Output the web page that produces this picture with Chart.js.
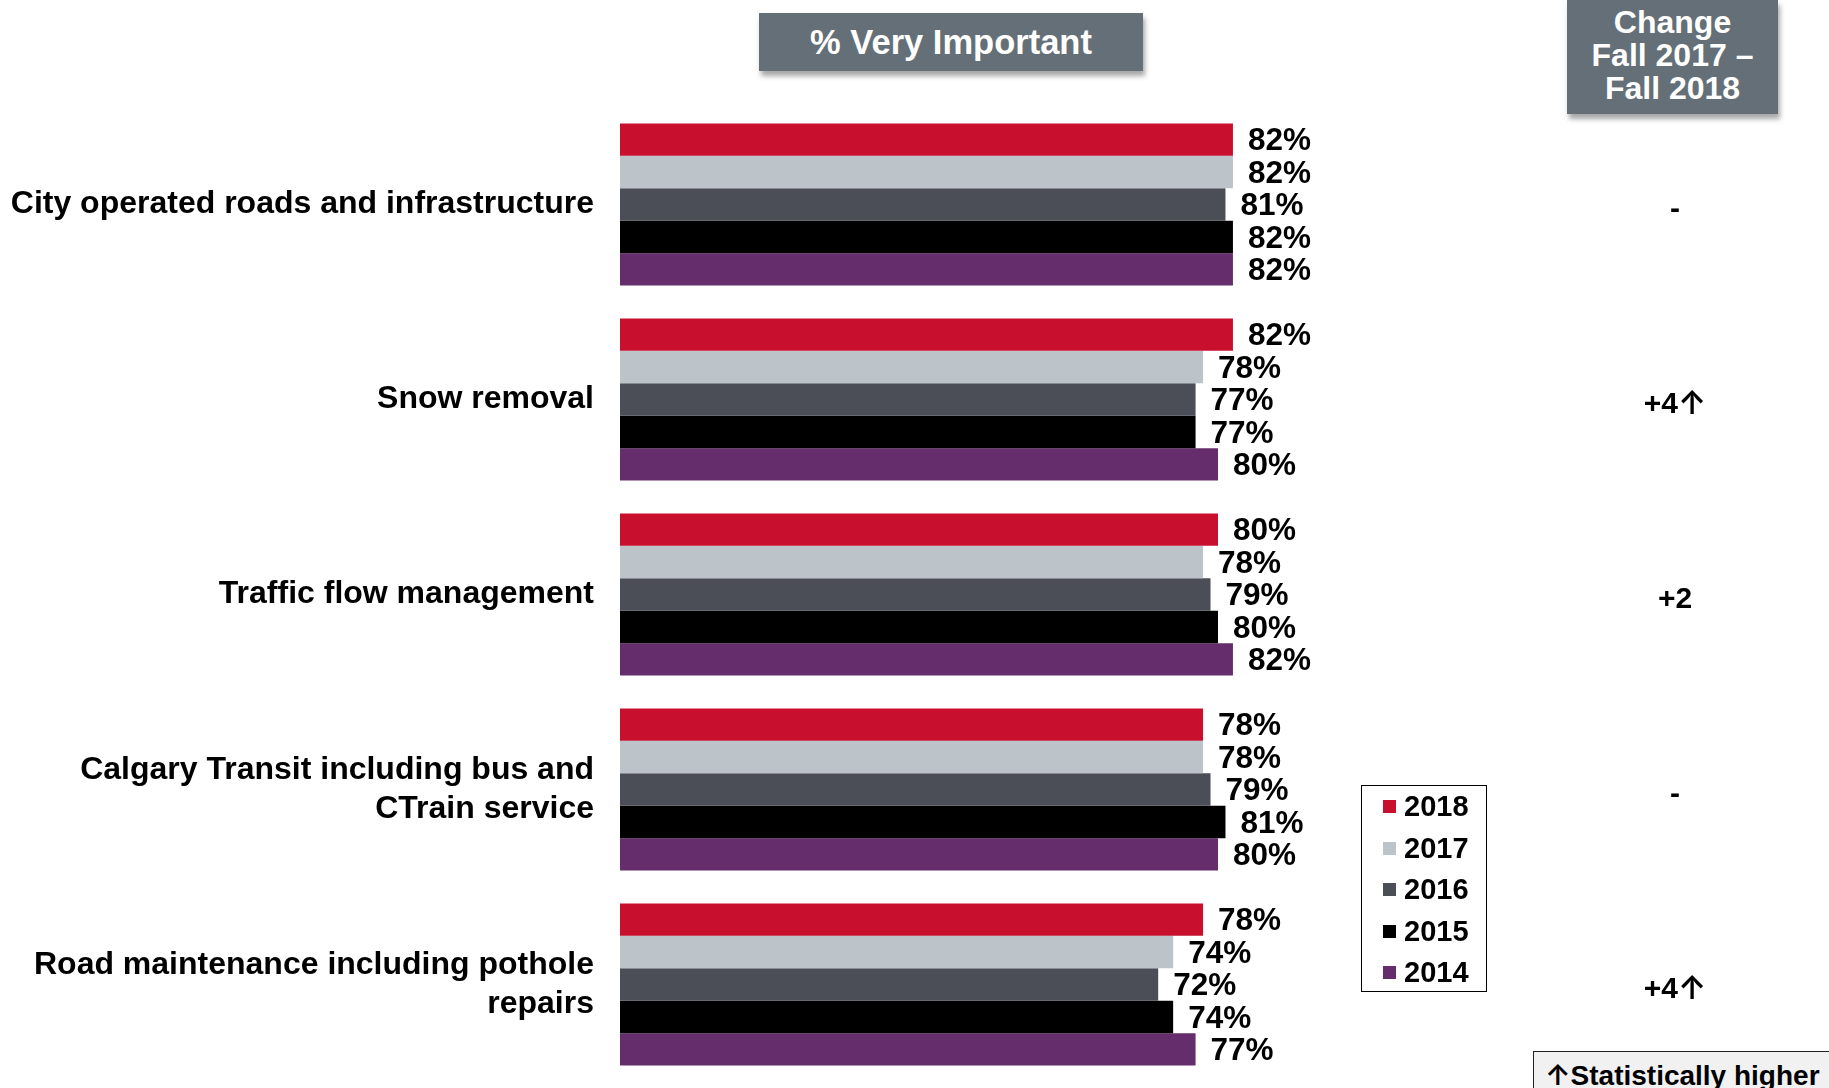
<!DOCTYPE html>
<html>
<head>
<meta charset="utf-8">
<script src="https://cdn.jsdelivr.net/npm/chart.js@4.4.1/dist/chart.umd.min.js"></script>
<style>
  html, body { margin:0; padding:0; background:#fff; }
  body { width:1829px; height:1088px; position:relative; overflow:hidden;
         font-family:'Liberation Sans', Arial, sans-serif; font-weight:bold; color:#000; }
  #chart { position:absolute; left:0; top:0; }
  .hdr { position:absolute; background:#646f78; color:#fff; text-align:center;
         box-shadow:2px 5px 5px rgba(0,0,0,0.35); }
  #title { left:759px; top:13px; width:384px; height:58px; line-height:58px; font-size:34.5px; }
  #changeHdr { left:1567px; top:0; width:211px; height:114px; box-sizing:border-box;
               padding-top:6px; font-size:32px; line-height:33px; }
  #legend { position:absolute; left:1361px; top:785px; width:124px; height:205px;
            border:1.5px solid #000; }
  #legend .item { position:absolute; left:0; height:30px; line-height:30px; font-size:29px; }
  #legend .sw { position:absolute; left:21px; top:9px; width:13px; height:13px; }
  #legend .lbl { position:absolute; left:42px; top:0; }
  #sig { position:absolute; left:1533px; top:1051px; width:320px; height:60px;
         border:1.5px solid #222; background:#f1f1f1; font-size:28px; }
  #sig span { position:absolute; left:11px; top:5px; }
  #sig .arr { position:static; font-family:Inter, 'DejaVu Sans', sans-serif; font-weight:600; font-size:29px; }
</style>
</head>
<body>
<div class="hdr" id="title">% Very Important</div>
<div class="hdr" id="changeHdr">Change<br>Fall 2017 –<br>Fall 2018</div>
<canvas id="chart" width="1829" height="1088"></canvas>
<div id="legend"></div>
<div id="sig"><span><span class="arr">↑</span>Statistically higher</span></div>

<script>
// categories (multi-line where the label wraps)
const categories = [
  'City operated roads and infrastructure',
  'Snow removal',
  'Traffic flow management',
  ['Calgary Transit including bus and', 'CTrain service'],
  ['Road maintenance including pothole', 'repairs']
];

const years = ['2018', '2017', '2016', '2015', '2014'];
const colors = ['#c8102e', '#bcc3c9', '#4b4e56', '#000000', '#652d6b'];

const v2018 = [82, 82, 80, 78, 78];
const v2017 = [82, 78, 78, 78, 74];
const v2016 = [81, 77, 79, 79, 72];
const v2015 = [82, 77, 80, 81, 74];
const v2014 = [82, 80, 82, 80, 77];

// change fall 2017 -> fall 2018, with significance flag
const changes = ['-', '+4', '+2', '-', '+4'];
const sigHigher = [false, true, false, false, true];

const series = [v2018, v2017, v2016, v2015, v2014];

const FONT = "'Liberation Sans', Arial, sans-serif";
const ARROW_FONT = "600 32px Inter, 'DejaVu Sans', sans-serif";

// value labels to the right of each bar
const valueLabels = {
  id: 'valueLabels',
  afterDatasetsDraw(chart) {
    const ctx = chart.ctx;
    ctx.save();
    ctx.font = 'bold 31.5px ' + FONT;
    ctx.fillStyle = '#000';
    ctx.textAlign = 'left';
    ctx.textBaseline = 'middle';
    chart.data.datasets.forEach((ds, i) => {
      chart.getDatasetMeta(i).data.forEach((bar, j) => {
        ctx.fillText(ds.data[j] + '%', bar.x + 15, bar.y + 2);
      });
    });
    ctx.restore();
  }
};

// change column on the right, aligned to each category
const changeColumn = {
  id: 'changeColumn',
  afterDraw(chart) {
    const ctx = chart.ctx;
    const y = chart.scales.y;
    const cx = 1675;
    ctx.save();
    ctx.fillStyle = '#000';
    ctx.textBaseline = 'middle';
    ctx.textAlign = 'left';
    changes.forEach((c, i) => {
      const py = y.getPixelForValue(i) + 5;
      ctx.font = 'bold 30px ' + FONT;
      const w1 = ctx.measureText(c).width;
      let w2 = 0;
      if (sigHigher[i]) {
        ctx.font = ARROW_FONT;
        w2 = ctx.measureText('↑').width;
      }
      const x0 = cx - (w1 + w2) / 2;
      ctx.font = 'bold 30px ' + FONT;
      ctx.fillText(c, x0, py);
      if (sigHigher[i]) {
        ctx.font = ARROW_FONT;
        ctx.fillText('↑', x0 + w1, py);
      }
    });
    ctx.restore();
  }
};

new Chart(document.getElementById('chart'), {
  type: 'bar',
  data: {
    labels: categories,
    datasets: years.map((yr, i) => ({
      label: yr,
      data: series[i],
      backgroundColor: colors[i],
      borderWidth: 0,
      barPercentage: 1,
      categoryPercentage: 0.832
    }))
  },
  options: {
    indexAxis: 'y',
    responsive: false,
    animation: false,
    layout: { padding: { top: 107, bottom: 6, right: 461.5, left: 0 } },
    plugins: { legend: { display: false }, tooltip: { enabled: false } },
    scales: {
      x: { min: 0, max: 100, display: false },
      y: {
        grid: { display: false },
        border: { display: false },
        ticks: {
          color: '#000',
          padding: 18,
          font: { family: FONT, size: 32, weight: 'bold', lineHeight: 1.2 }
        },
        afterFit(scale) {
          scale.width = 620;
          // keep the wrapped labels from shrinking the plot area
          scale.paddingTop = 0;
          scale.paddingBottom = 0;
        }
      }
    }
  },
  plugins: [valueLabels, changeColumn]
});

// legend box
const legend = document.getElementById('legend');
years.forEach((yr, i) => {
  const item = document.createElement('div');
  item.className = 'item';
  item.style.top = (5 + i * 41.5) + 'px';
  item.innerHTML = `<div class="sw" style="background:${colors[i]}"></div><div class="lbl">${yr}</div>`;
  legend.appendChild(item);
});
</script>
</body>
</html>
